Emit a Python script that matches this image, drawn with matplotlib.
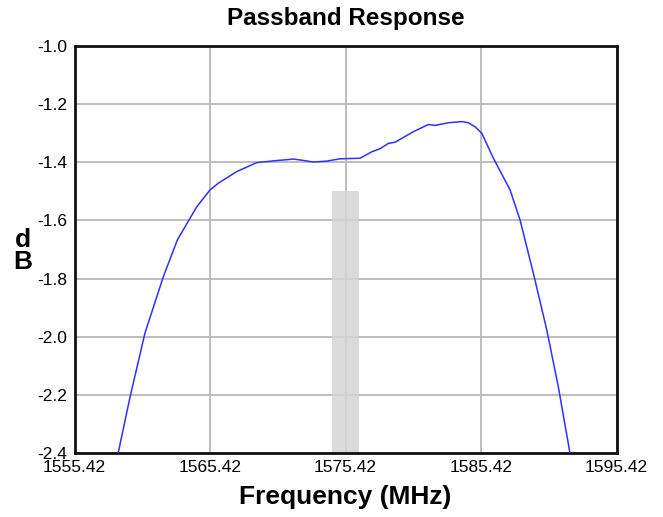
import matplotlib
matplotlib.use('Agg')
from matplotlib import pyplot as plt

plt.rcParams['font.family'] = ['Liberation Sans', 'DejaVu Sans']

# passband curve
freq_mhz = [1558.55, 1559.52, 1560.62, 1561.97, 1563.01, 1564.44, 1565.42, 1566.03,
            1567.39, 1568.87, 1570.34, 1571.57, 1572.08, 1573.04, 1574.03, 1575.01,
            1576.49, 1577.35, 1577.97, 1578.58, 1579.07, 1580.42, 1581.53, 1582.03,
            1583.01, 1584.00, 1584.48, 1584.98, 1585.47, 1586.33, 1587.56, 1588.30,
            1589.28, 1590.27, 1591.12, 1591.94, 1592.00]
resp_db = [-2.42, -2.207, -1.987, -1.794, -1.667, -1.553, -1.495, -1.472,
           -1.432, -1.401, -1.394, -1.389, -1.392, -1.399, -1.396, -1.388,
           -1.386, -1.364, -1.353, -1.335, -1.331, -1.295, -1.270, -1.273,
           -1.264, -1.260, -1.264, -1.278, -1.300, -1.386, -1.495, -1.599,
           -1.782, -1.977, -2.172, -2.390, -2.42]

# shaded band around the centre frequency
band_f = [1574.42, 1576.42]
band_top = -1.5

x_ticks = [1555.42, 1565.42, 1575.42, 1585.42, 1595.42]
y_ticks = [-1.0, -1.2, -1.4, -1.6, -1.8, -2.0, -2.2, -2.4]

fig = plt.figure(figsize=(6.63, 5.17), dpi=100)
ax = fig.add_axes([0.1124, 0.1238, 0.8176, 0.7872])

ax.fill_between(band_f, -2.4, band_top, color='#d4d4d4', alpha=0.85, lw=0, zorder=1)
ax.plot(freq_mhz, resp_db, color='#3030ff', lw=1.1, zorder=3)

ax.set_xlim(1555.42, 1595.42)
ax.set_ylim(-2.4, -1.0)
ax.set_xticks(x_ticks)
ax.set_xticklabels(['%.2f' % t for t in x_ticks])
ax.set_yticks(y_ticks)
ax.set_yticklabels(['%.1f' % t for t in y_ticks])
ax.tick_params(length=0, labelsize=12.5, pad=5)
ax.grid(True, color='#b8b8b8', lw=1.3, zorder=2)
ax.set_axisbelow(True)
for s in ax.spines.values():
    s.set_linewidth(2)
    s.set_color('#111111')

ax.set_title('Passband Response', fontsize=17.5, fontweight='bold', pad=15)
ax.set_xlabel('Frequency (MHz)', fontsize=19, fontweight='bold', labelpad=7)
fig.text(0.034, 0.515, 'd\nB', fontsize=19, fontweight='bold', ha='center', va='center',
         linespacing=0.9)

plt.savefig('out.png')
